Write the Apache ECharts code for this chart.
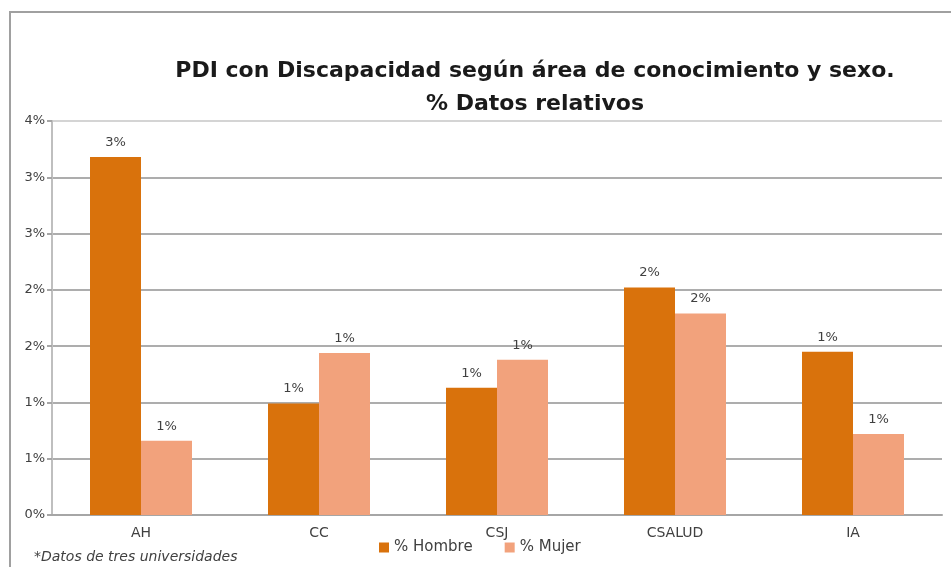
<!DOCTYPE html>
<html>
<head>
<meta charset="UTF-8">
<title>PDI con Discapacidad</title>
<style>
body{margin:0;padding:0;background:#fff;}
#chart{width:951px;height:567px;}
</style>
</head>
<body>
<div id="chart"></div>
<script src="https://cdn.jsdelivr.net/npm/echarts@6/dist/echarts.min.js"></script>
<script>
// datos (porcentaje)
var areas = ['AH', 'CC', 'CSJ', 'CSALUD', 'IA'];
var hombre = [3.18, 0.99, 1.13, 2.02, 1.45];
var mujer = [0.66, 1.44, 1.38, 1.79, 0.72];

var txt = '#404040';
var fnt = 'DejaVu Sans';

var chart = echarts.init(document.getElementById('chart'));

function pct(v){ return Math.round(v) + '%'; }

chart.setOption({
  animation: false,
  backgroundColor: '#fff',
  title: {
    text: 'PDI con Discapacidad según área de conocimiento y sexo.\n% Datos relativos',
    left: 530,
    top: 50,
    textAlign: 'center',
    textStyle: {fontFamily: fnt, fontWeight: 'bold', fontSize: 22, color: '#1a1a1a', lineHeight: 33}
  },
  legend: {
    data: ['% Hombre', '% Mujer'],
    left: 374,
    top: 535,
    itemWidth: 10,
    itemHeight: 10,
    itemGap: 32,
    icon: 'rect',
    textStyle: {fontFamily: fnt, fontSize: 15, color: txt}
  },
  grid: {left: 52, right: 9, top: 121, bottom: 52},
  xAxis: {
    type: 'category',
    data: areas,
    axisLine: {lineStyle: {color: '#a6a6a6', width: 2}},
    axisTick: {show: false},
    axisLabel: {fontFamily: fnt, fontSize: 14, color: txt, margin: 11}
  },
  yAxis: {
    type: 'value',
    min: 0,
    max: 3.5,
    interval: 0.5,
    axisLine: {show: true, lineStyle: {color: '#bfbfbf', width: 2}},
    axisTick: {show: true, length: 5, lineStyle: {color: '#a6a6a6', width: 2}},
    axisLabel: {fontFamily: fnt, fontSize: 13, color: txt, margin: 7, formatter: pct},
    splitLine: {lineStyle: {color: ['#adadad', '#adadad', '#adadad', '#adadad', '#adadad', '#adadad', '#adadad', '#d4d4d4'], width: 2}}
  },
  series: [
    {
      name: '% Hombre',
      type: 'bar',
      data: hombre,
      barWidth: 51,
      barGap: '0%',
      itemStyle: {color: '#d9720c'},
      label: {show: true, position: 'top', distance: 8, fontFamily: fnt, fontSize: 13, color: txt,
        formatter: function(p){ return pct(p.value); }}
    },
    {
      name: '% Mujer',
      type: 'bar',
      data: mujer,
      barWidth: 51,
      barGap: '0%',
      itemStyle: {color: '#f2a27c'},
      label: {show: true, position: 'top', distance: 8, fontFamily: fnt, fontSize: 13, color: txt,
        formatter: function(p){ return pct(p.value); }}
    }
  ],
  graphic: [
    {
      type: 'polyline',
      shape: {points: [[10, 567], [10, 12], [951, 12]]},
      style: {stroke: '#a0a0a0', lineWidth: 2, fill: null},
      silent: true
    },
    {
      type: 'text',
      left: 34,
      top: 550,
      style: {text: '*Datos de tres universidades', fontFamily: fnt, fontStyle: 'italic', fontSize: 14, fill: txt}
    }
  ]
});
</script>
</body>
</html>
